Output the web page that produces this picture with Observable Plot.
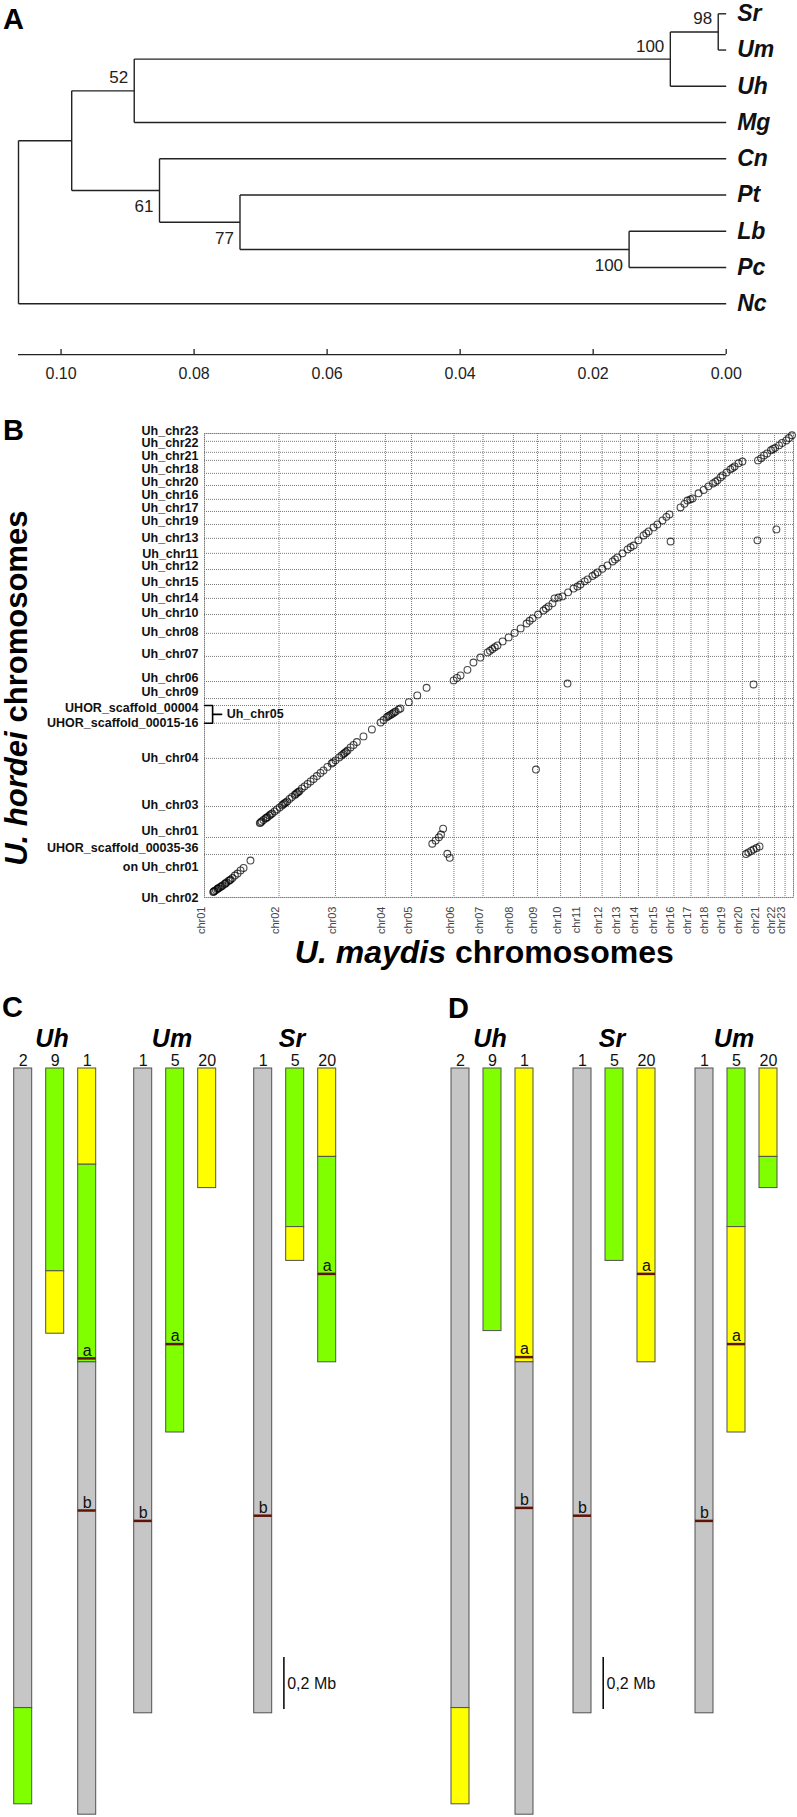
<!DOCTYPE html>
<html><head><meta charset="utf-8">
<script src="https://cdn.jsdelivr.net/npm/d3@7"></script>
<script src="https://cdn.jsdelivr.net/npm/@observablehq/plot@0.6"></script>
<style>
body{margin:0;background:#fff;}
#fig{position:relative;width:797px;height:1817px;font-family:"Liberation Sans",Arial,sans-serif;overflow:hidden;}
.panel{position:absolute;}
.panel svg{display:block;overflow:visible;}
.letter{position:absolute;font-weight:bold;font-size:29px;line-height:1;font-family:"Liberation Sans",Arial,sans-serif;}
</style></head><body><div id="fig"></div>
<script>
const FONT = '"Liberation Sans", Arial, sans-serif';

// ---------- Panel A: tree ----------
const tipNames = ["Sr","Um","Uh","Mg","Cn","Pt","Lb","Pc","Nc"];
const nodeNames = ["n98","n100a","n52","n100b","n77","n61","n1","root"];
const nodeChildA = ["Sr","n98","n100a","Lb","Pt","Cn","n52","n1"];
const nodeChildB = ["Um","Uh","Mg","Pc","n100b","n77","n61","Nc"];
const nodeHeights = [0.0012,0.0084,0.0890,0.0146,0.0731,0.0852,0.0984,0.1064];
const nodeSupport = [98,100,52,100,77,61,null,null];
const supportBelow = [false,false,false,true,true,true,false,false];
const distTicks = [0.10,0.08,0.06,0.04,0.02,0.00];
const treeRoot = 0.1064;
const axisRow = 9.4;

// ---------- Panel B: dot plot ----------
const umNames = ["chr01","chr02","chr03","chr04","chr05","chr06","chr07","chr08","chr09","chr10","chr11","chr12","chr13","chr14","chr15","chr16","chr17","chr18","chr19","chr20","chr21","chr22","chr23"];
const umStarts = [0,2.48,4.36,6.02,6.89,8.30,9.27,10.28,11.08,11.85,12.51,13.23,13.84,14.44,15.06,15.62,16.19,16.76,17.32,17.90,18.45,18.97,19.32];
const umEnd = 19.60;
const uhBounds = [0,1.92,2.68,4.06,6.21,7.78,8.57,8.88,9.64,10.76,11.79,12.63,13.35,13.97,14.64,15.36,16.03,16.65,17.23,17.77,18.39,18.93,19.51,19.87,20.36,20.71];
const uhEnd = 20.71;
const uhNames = ["Uh_chr02","UHOR_scaffold_00035-36","Uh_chr01","Uh_chr03","Uh_chr04","UHOR_scaffold_00015-16","UHOR_scaffold_00004","Uh_chr09","Uh_chr06","Uh_chr07","Uh_chr08","Uh_chr10","Uh_chr14","Uh_chr15","Uh_chr12","Uh_chr11","Uh_chr13","Uh_chr19","Uh_chr17","Uh_chr16","Uh_chr20","Uh_chr18","Uh_chr21","Uh_chr22","Uh_chr23"];
const uhLabelPos = [0,2.19,2.95,4.11,6.21,7.79,8.48,9.15,9.78,10.85,11.83,12.68,13.39,14.06,14.80,15.33,16.05,16.79,17.39,17.97,18.53,19.11,19.69,20.27,20.83];
const bracketX = [0, 0.27, 0.57];
const dots = [
 [0.29,0.24],[0.31,0.27],[0.33,0.29],[0.38,0.33],[0.43,0.38],[0.45,0.41],[0.48,0.42],[0.53,0.47],[0.57,0.50],[0.60,0.54],[0.67,0.60],[0.70,0.63],[0.73,0.67],[0.80,0.74],[0.84,0.77],[0.87,0.80],[0.93,0.87],[1.01,0.98],[1.10,1.07],[1.20,1.21],[1.30,1.32],[1.53,1.65],
 [1.84,3.32],[1.87,3.35],[1.90,3.39],[1.96,3.46],[2.03,3.53],[2.06,3.56],[2.10,3.59],[2.16,3.66],[2.20,3.71],[2.25,3.75],[2.33,3.84],[2.41,3.93],[2.50,4.02],[2.58,4.11],[2.62,4.16],[2.66,4.20],[2.70,4.24],[2.75,4.29],[2.83,4.40],[2.91,4.49],[3.00,4.58],[3.04,4.62],[3.08,4.67],[3.12,4.71],[3.16,4.75],[3.24,4.87],[3.33,4.96],[3.43,5.07],[3.53,5.18],[3.63,5.29],[3.74,5.42],[3.86,5.56],[3.96,5.67],[4.09,5.83],[4.23,5.98],[4.28,6.03],[4.36,6.12],[4.48,6.25],[4.56,6.34],[4.62,6.40],[4.66,6.45],[4.71,6.50],[4.76,6.56],[4.86,6.70],[4.96,6.81],[5.07,6.94],[5.29,7.19],[5.57,7.50],[5.86,7.81],[5.96,7.92],[6.06,8.04],[6.11,8.09],[6.16,8.13],[6.21,8.17],[6.26,8.21],[6.31,8.26],[6.36,8.30],[6.46,8.39],[6.52,8.44],[6.80,8.72],[7.08,9.02],[7.39,9.36],
 [7.58,2.40],[7.69,2.54],[7.80,2.69],[7.87,2.81],[7.94,3.07],[8.08,1.95],[8.16,1.77],
 [18.02,1.94],[18.10,2.01],[18.19,2.08],[18.27,2.14],[18.37,2.21],[18.47,2.28],
 [11.03,5.71],
 [8.29,9.69],[8.40,9.80],[8.52,9.91],[8.75,10.16],[8.95,10.49],[9.18,10.71],[9.42,10.94],[9.50,11.01],[9.58,11.09],[9.66,11.17],[9.75,11.25],[9.92,11.43],[10.12,11.61],[10.32,11.81],[10.52,12.01],[10.72,12.23],[10.82,12.35],[10.92,12.46],[11.10,12.63],[11.28,12.81],[11.36,12.90],[11.45,12.99],[11.58,13.13],[11.65,13.35],[11.78,13.39],[11.91,13.44],[12.10,13.62],[12.28,13.79],[12.41,13.88],[12.51,13.97],[12.65,14.11],[12.75,14.20],[12.91,14.35],[13.00,14.43],[13.08,14.51],[13.24,14.67],[13.41,14.82],[13.58,15.00],[13.66,15.09],[13.74,15.18],[13.91,15.36],[14.08,15.54],[14.18,15.63],[14.28,15.71],[14.44,15.94],[14.61,16.16],[14.70,16.25],[14.78,16.34],[14.94,16.52],[15.07,16.65],[15.24,16.83],[15.37,16.99],[15.47,17.10],
 [15.84,17.41],[15.97,17.57],[16.07,17.72],[16.17,17.77],[16.24,17.81],
 [16.44,18.04],[16.61,18.19],[16.77,18.35],[16.92,18.48],[17.00,18.55],[17.07,18.62],[17.17,18.75],[17.24,18.84],[17.37,18.97],[17.50,19.11],[17.57,19.17],[17.64,19.24],[17.77,19.38],[17.90,19.46],
 [18.42,19.51],[18.52,19.60],[18.62,19.73],[18.72,19.82],[18.85,19.96],[18.92,20.02],[18.99,20.07],[19.12,20.18],[19.22,20.29],[19.36,20.40],[19.45,20.51],[19.55,20.63],
 [15.51,15.89],[18.40,15.94],[19.03,16.43],[12.08,9.55],[18.27,9.51]
];

// ---------- Panels C & D: chromosome maps ----------
const kinds = ["unshared","greenBlock","yellowBlock"];
const kindFills = ["#c6c6c6","#80ff00","#ffff00"];
const speciesC = ["Uh","Um","Sr"];
const speciesD = ["Uh","Sr","Um"];
const chromLabels = {Uh:["2","9","1"], Um:["1","5","20"], Sr:["1","5","20"]};
const segC = [
 {sp:"Uh",slot:0,from:0,to:2.46,kind:"unshared"},{sp:"Uh",slot:0,from:2.46,to:2.83,kind:"greenBlock"},
 {sp:"Uh",slot:1,from:0,to:0.78,kind:"greenBlock"},{sp:"Uh",slot:1,from:0.78,to:1.02,kind:"yellowBlock"},
 {sp:"Uh",slot:2,from:0,to:0.37,kind:"yellowBlock"},{sp:"Uh",slot:2,from:0.37,to:1.13,kind:"greenBlock"},{sp:"Uh",slot:2,from:1.13,to:2.87,kind:"unshared"},
 {sp:"Um",slot:0,from:0,to:2.48,kind:"unshared"},
 {sp:"Um",slot:1,from:0,to:1.40,kind:"greenBlock"},
 {sp:"Um",slot:2,from:0,to:0.46,kind:"yellowBlock"},
 {sp:"Sr",slot:0,from:0,to:2.48,kind:"unshared"},
 {sp:"Sr",slot:1,from:0,to:0.61,kind:"greenBlock"},{sp:"Sr",slot:1,from:0.61,to:0.74,kind:"yellowBlock"},
 {sp:"Sr",slot:2,from:0,to:0.34,kind:"yellowBlock"},{sp:"Sr",slot:2,from:0.34,to:1.13,kind:"greenBlock"}
];
const segD = [
 {sp:"Uh",slot:0,from:0,to:2.46,kind:"unshared"},{sp:"Uh",slot:0,from:2.46,to:2.83,kind:"yellowBlock"},
 {sp:"Uh",slot:1,from:0,to:1.01,kind:"greenBlock"},
 {sp:"Uh",slot:2,from:0,to:1.13,kind:"yellowBlock"},{sp:"Uh",slot:2,from:1.13,to:2.87,kind:"unshared"},
 {sp:"Sr",slot:0,from:0,to:2.48,kind:"unshared"},
 {sp:"Sr",slot:1,from:0,to:0.74,kind:"greenBlock"},
 {sp:"Sr",slot:2,from:0,to:1.13,kind:"yellowBlock"},
 {sp:"Um",slot:0,from:0,to:2.48,kind:"unshared"},
 {sp:"Um",slot:1,from:0,to:0.61,kind:"greenBlock"},{sp:"Um",slot:1,from:0.61,to:1.40,kind:"yellowBlock"},
 {sp:"Um",slot:2,from:0,to:0.34,kind:"yellowBlock"},{sp:"Um",slot:2,from:0.34,to:0.46,kind:"greenBlock"}
];
const markC = [
 {sp:"Uh",slot:2,at:1.115,label:"a"},{sp:"Uh",slot:2,at:1.70,label:"b"},
 {sp:"Um",slot:0,at:1.74,label:"b"},{sp:"Um",slot:1,at:1.06,label:"a"},
 {sp:"Sr",slot:0,at:1.72,label:"b"},{sp:"Sr",slot:2,at:0.79,label:"a"}
];
const markD = [
 {sp:"Uh",slot:2,at:1.11,label:"a"},{sp:"Uh",slot:2,at:1.69,label:"b"},
 {sp:"Sr",slot:0,at:1.72,label:"b"},{sp:"Sr",slot:2,at:0.79,label:"a"},
 {sp:"Um",slot:0,at:1.74,label:"b"},{sp:"Um",slot:1,at:1.06,label:"a"}
];
const scaleBar = [{sp:"Sr",slot:1,from:2.265,to:2.465,label:"0,2 Mb"}];
const yMaxMb = 2.87;

// ---------- helpers ----------
const fig = document.getElementById("fig");
function place(el, left, top){const d=document.createElement("div");d.className="panel";d.style.left=left+"px";d.style.top=top+"px";d.appendChild(el);fig.appendChild(d);}
function letter(t, left, top){const d=document.createElement("div");d.className="letter";d.textContent=t;d.style.left=left+"px";d.style.top=top+"px";fig.appendChild(d);}

// ---------- build tree ----------
const pos = new Map();
tipNames.forEach((n,i)=>pos.set(n,{h:0,y:i}));
nodeNames.forEach((n,i)=>{const a=pos.get(nodeChildA[i]), b=pos.get(nodeChildB[i]); pos.set(n,{h:nodeHeights[i],y:(a.y+b.y)/2,ya:a.y,yb:b.y});});
const segs=[];
nodeNames.forEach((n,i)=>{const p=pos.get(n); segs.push({x1:p.h,y1:p.ya,x2:p.h,y2:p.yb});
  [nodeChildA[i],nodeChildB[i]].forEach(c=>{const q=pos.get(c); segs.push({x1:p.h,y1:q.y,x2:q.h,y2:q.y});});});
const supp = nodeNames.map((n,i)=>({h:nodeHeights[i],y:pos.get(n).y,s:nodeSupport[i],below:supportBelow[i]})).filter(d=>d.s!=null);

const plotA = Plot.plot({
  width:797, height:390, marginLeft:18, marginRight:71.3, marginTop:0, marginBottom:0,
  style:{fontFamily:FONT, background:"transparent"},
  x:{domain:[treeRoot,0], axis:null},
  y:{domain:[0,8], range:[13.3,303.3], axis:null},
  marks:[
    Plot.link(segs,{x1:"x1",y1:"y1",x2:"x2",y2:"y2",stroke:"#222",strokeWidth:1.4}),
    Plot.text(tipNames,{x:0,y:(d,i)=>i,text:d=>d,dx:11,textAnchor:"start",fontSize:23,fontWeight:"bold",fontStyle:"italic",fill:"#111"}),
    Plot.text(supp.filter(d=>!d.below),{x:"h",y:"y",text:d=>String(d.s),dx:-6,dy:-13,textAnchor:"end",fontSize:17,fill:"#222"}),
    Plot.text(supp.filter(d=>d.below),{x:"h",y:"y",text:d=>String(d.s),dx:-6,dy:16,textAnchor:"end",fontSize:17,fill:"#222"}),
    Plot.ruleY([axisRow],{x1:treeRoot,x2:0,stroke:"#222",strokeWidth:1.3}),
    Plot.ruleX(distTicks,{x:d=>d,y1:axisRow-0.14,y2:axisRow,stroke:"#222",strokeWidth:1.3}),
    Plot.text(distTicks,{x:d=>d,y:axisRow,dy:19,text:d=>d.toFixed(2),fontSize:16,fill:"#222"})
  ]
});
place(plotA,0,0);

// ---------- panel B ----------
const gridStyle = {stroke:"#7a7a7a",strokeWidth:1,strokeDasharray:"1,1"};
const bracketPts = [{x:bracketX[0],y:uhBounds[6]},{x:bracketX[1],y:uhBounds[6]},{x:bracketX[1],y:uhBounds[5]},{x:bracketX[0],y:uhBounds[5]}];
const bracketMid = (uhBounds[5]+uhBounds[6])/2;
const plotB = Plot.plot({
  width:797, height:610, marginLeft:204, marginRight:4, marginTop:53, marginBottom:93,
  style:{fontFamily:FONT, background:"transparent"},
  x:{domain:[0,umEnd], axis:null},
  y:{domain:[0,uhEnd], axis:null},
  marks:[
    Plot.ruleX(umStarts.concat([umEnd]),gridStyle),
    Plot.ruleY(uhBounds,gridStyle),
    Plot.frame(gridStyle),
    Plot.dot(dots,{x:d=>d[0],y:d=>d[1],r:3.4,stroke:"#000",strokeOpacity:0.72,strokeWidth:1.1,fill:"none"}),
    Plot.text(uhNames,{y:(d,i)=>uhLabelPos[i],text:d=>d,frameAnchor:"left",dx:-6,textAnchor:"end",fontSize:12.5,fontWeight:"bold",fill:"#111"}),
    Plot.text(["on Uh_chr01"],{y:uhLabelPos[1],text:d=>d,frameAnchor:"left",dx:-6,dy:19,textAnchor:"end",fontSize:12.5,fontWeight:"bold",fill:"#111"}),
    Plot.line(bracketPts,{x:"x",y:"y",stroke:"#000",strokeWidth:1.6}),
    Plot.line([{x:bracketX[1],y:bracketMid},{x:bracketX[2],y:bracketMid}],{x:"x",y:"y",stroke:"#000",strokeWidth:1.6}),
    Plot.text(["Uh_chr05"],{x:bracketX[2],y:bracketMid,text:d=>d,dx:5,textAnchor:"start",fontSize:12.5,fontWeight:"bold",fill:"#111"}),
    Plot.text(umNames,{x:(d,i)=>umStarts[i],text:d=>d,frameAnchor:"bottom",rotate:-90,textAnchor:"end",dy:9,fontSize:11,fill:"#444"}),
    Plot.text(["chromosomes"],{text:d=>d,frameAnchor:"left",rotate:-90,textAnchor:"start",dx:-187,dy:57,fontSize:31,fontWeight:"bold",fill:"#000"}),
    Plot.text(["U. hordei"],{text:d=>d,frameAnchor:"left",rotate:-90,textAnchor:"end",dx:-187,dy:66,fontSize:31,fontWeight:"bold",fontStyle:"italic",fill:"#000"}),
    Plot.text(["U. maydis"],{text:d=>d,frameAnchor:"bottom",textAnchor:"end",dx:-53,dy:65,fontSize:32,fontWeight:"bold",fontStyle:"italic",fill:"#000"}),
    Plot.text(["chromosomes"],{text:d=>d,frameAnchor:"bottom",textAnchor:"start",dx:-44,dy:65,fontSize:32,fontWeight:"bold",fill:"#000"})
  ]
});
place(plotB,0,380);

// ---------- panels C, D ----------
function chromPlot(species, segData, markData, width, ml, mr, pad){
  const labels = species.flatMap(sp=>chromLabels[sp].map((t,i)=>({sp,slot:i,t})));
  return Plot.plot({
    width, height:827, marginLeft:ml, marginRight:mr, marginTop:78, marginBottom:2.8,
    style:{fontFamily:FONT, background:"transparent"},
    fx:{domain:species, paddingInner:pad, paddingOuter:0, axis:null, label:null},
    x:{domain:[0,1,2], paddingInner:0.43, paddingOuter:0, axis:null},
    y:{domain:[0,yMaxMb], reverse:true, axis:null},
    color:{type:"ordinal", domain:kinds, range:kindFills},
    marks:[
      Plot.barY(segData,{fx:"sp",x:"slot",y1:"from",y2:"to",fill:"kind",stroke:"#505050",strokeWidth:1,inset:0}),
      Plot.tickY(markData,{fx:"sp",x:"slot",y:"at",stroke:"#5e1408",strokeWidth:2.5}),
      Plot.text(markData,{fx:"sp",x:"slot",y:"at",text:"label",dy:-8,fontSize:16,fill:"#111"}),
      Plot.text(labels,{fx:"sp",x:"slot",y:0,text:"t",dy:-8,fontSize:16,fill:"#111"}),
      Plot.text(species,{fx:d=>d,text:d=>d,frameAnchor:"top",dx:-3,dy:-39,fontSize:25,fontWeight:"bold",fontStyle:"italic",fill:"#000"}),
      Plot.ruleX(scaleBar,{fx:"sp",x:"slot",y1:"from",y2:"to",dx:-11.3,stroke:"#000",strokeWidth:1.5}),
      Plot.text(scaleBar,{fx:"sp",x:"slot",y:d=>(d.from+d.to)/2,text:"label",dx:-8,textAnchor:"start",fontSize:16,fill:"#111"})
    ]
  });
}
place(chromPlot(speciesC, segC, markC, 400, 12.3, 63.6, 0.306), 0, 990);
place(chromPlot(speciesD, segD, markD, 397, 50, 18.5, 0.318), 400, 990);

letter("A",3,5); letter("B",3,416); letter("C",2,993); letter("D",448,994);
</script></body></html>
